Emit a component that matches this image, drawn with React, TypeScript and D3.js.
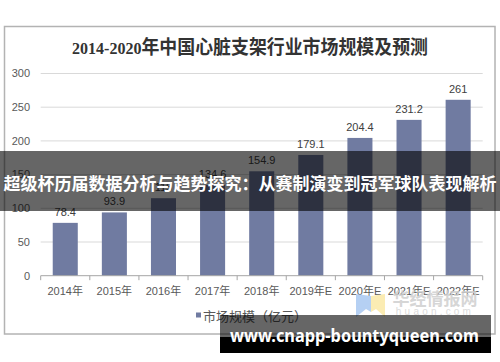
import React from "react";
import * as d3 from "d3";

const categories = ["2014年", "2015年", "2016年", "2017年", "2018年", "2019年E", "2020年E", "2021年E", "2022年E"];
const marketSize = [78.4, 93.9, 115.0, 134.6, 154.9, 179.1, 204.4, 231.2, 261];
const valueLabels = ["78.4", "93.9", "115", "134.6", "154.9", "179.1", "204.4", "231.2", "261"];
const yTicks = [0, 50, 100, 150, 200, 250, 300];
const titleNum = "2014-2020";
const titleCjk = "年中国心脏支架行业市场规模及预测";
const legendLabel = "市场规模（亿元）";
const bannerText = "超级杯历届数据分析与趋势探究：从赛制演变到冠军球队表现解析";
const siteText = "www.cnapp-bountyqueen.com";
const logoText = "华经情报网";
const logoSub = "huaon.com";

const W = 500;
const H = 362;
const BAR = "#707ba1";

export default function App() {
  const x = d3
    .scaleBand<string>()
    .domain(categories)
    .range([40.7, 482.7])
    .paddingInner(0.49)
    .paddingOuter(0.245);
  const y = d3.scaleLinear().domain([0, 300]).range([275.7, 73.5]);
  const step = x.step();
  const x0 = 40.7;
  const boundaries = d3.range(categories.length + 1).map((i) => x0 + i * step);
  const sans = "'Liberation Sans', Arial, 'Noto Sans CJK SC', sans-serif";
  const cjk = "'Noto Sans CJK SC', sans-serif";

  return (
    <svg
      width={W}
      height={H}
      viewBox={`0 0 ${W} ${H}`}
      style={{ position: "absolute", left: 0, top: 0, background: "#fff" }}
    >
      <rect x={0} y={0} width={W} height={H} fill="#fff" />
      {/* frame */}
      <rect x={4.5} y={26.5} width={490.5} height={307.5} fill="none" stroke="#b3b3b3" strokeWidth={1.5} />
      {/* title */}
      <text x={250} y={54} textAnchor="middle" fill="#333" fontWeight="bold" textLength={356} lengthAdjust="spacingAndGlyphs">
        <tspan fontFamily="'Liberation Serif', serif" fontSize={17}>{titleNum}</tspan>
        <tspan fontFamily={cjk} fontSize={19} fontWeight={700}>{titleCjk}</tspan>
      </text>
      {/* grid */}
      {yTicks.filter((t) => t > 0).map((t) => (
        <line key={t} x1={40.7} x2={482.7} y1={y(t)} y2={y(t)} stroke="#d9d9d9" strokeWidth={1} />
      ))}
      {yTicks.map((t) => (
        <text key={"yl" + t} x={30} y={y(t)} dy="0.35em" textAnchor="end" fontSize={11} fill="#595959" fontFamily={sans}>
          {t}
        </text>
      ))}
      {/* bars */}
      {categories.map((c, i) => (
        <rect key={c} x={x(c)} y={y(marketSize[i])} width={x.bandwidth()} height={y(0) - y(marketSize[i])} fill={BAR} />
      ))}
      {categories.map((c, i) => (
        <text
          key={"v" + c}
          x={(x(c) as number) + x.bandwidth() / 2}
          y={y(marketSize[i]) - 7}
          textAnchor="middle"
          fontSize={11}
          fill="#404040"
          fontFamily={sans}
        >
          {valueLabels[i]}
        </text>
      ))}
      {/* x axis */}
      <line x1={40.7} x2={482.7} y1={y(0)} y2={y(0)} stroke="#a6a6a6" strokeWidth={1} />
      {boundaries.map((bx, i) => (
        <line key={"t" + i} x1={bx} x2={bx} y1={y(0)} y2={y(0) + 4.5} stroke="#a6a6a6" strokeWidth={1} />
      ))}
      {categories.map((c) => (
        <text
          key={"xl" + c}
          x={(x(c) as number) + x.bandwidth() / 2}
          y={291}
          dy="0.35em"
          textAnchor="middle"
          fontSize={11}
          fill="#595959"
          fontFamily={sans}
        >
          {c}
        </text>
      ))}
      {/* legend */}
      <rect x={196} y={312.5} width={5} height={5} fill={BAR} />
      <text x={203} y={316.5} dy="0.35em" fontSize={13} fill="#595959" fontFamily={cjk}>
        {legendLabel}
      </text>
      {/* huajing watermark */}
      <g opacity={0.85}>
        <polygon points="356,294 371,296 371,312 366,309 356,317" fill="#a9c8f2" />
        <polygon points="371,296 385,294 385,317 376,309 371,312" fill="#fbe9a6" />
        <text x={435} y={299} dy="0.35em" textAnchor="middle" fontSize={17} fontWeight="bold" fill="#cfcfcf" fontFamily={cjk}>
          {logoText}
        </text>
        <text x={435} y={311} dy="0.35em" textAnchor="middle" fontSize={10} fill="#d6d6d6" fontFamily={sans} letterSpacing={3.2}>
          {logoSub}
        </text>
      </g>
      {/* banner */}
      <rect x={0} y={151} width={W} height={60} fill="rgba(0,0,0,0.6)" />
      <text x={250} y={184.5} dy="0.35em" textAnchor="middle" fontSize={17} fontWeight={700} fill="#fff" fontFamily={cjk}>
        {bannerText}
      </text>
      {/* site watermark */}
      <rect x={220} y={315} width={271} height={22} fill="rgba(0,0,0,0.6)" />
      <rect x={220} y={337} width={271} height={16} fill="#000" />
      <text
        x={230}
        y={341.5}
        fontSize={18}
        fontWeight={700}
        fill="#fff"
        fontFamily="'Noto Sans', 'Open Sans', sans-serif"
        textLength={249}
        lengthAdjust="spacingAndGlyphs"
      >
        {siteText}
      </text>
    </svg>
  );
}
